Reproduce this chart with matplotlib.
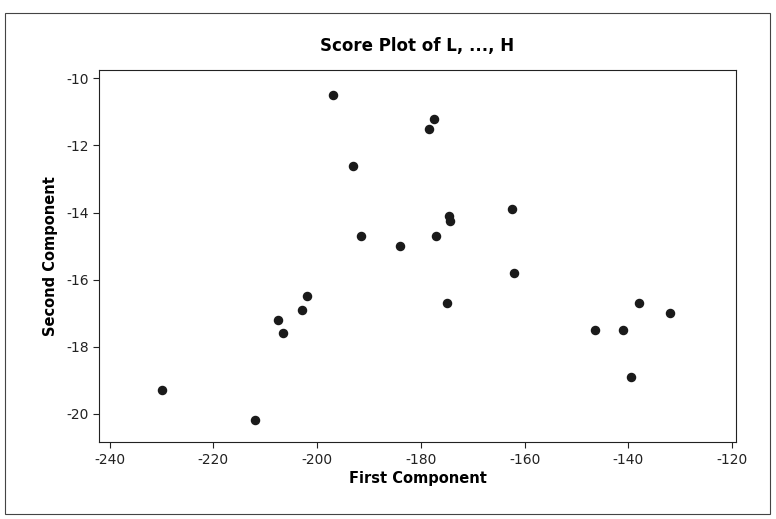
import matplotlib
matplotlib.use('Agg')
import matplotlib.pyplot as plt
from matplotlib.patches import Rectangle

first_component = [-230, -212, -207.5, -206.5, -203, -202, -197, -193, -191.5,
                   -184, -178.5, -177.5, -177, -174.5, -174.3, -175, -162.5,
                   -162, -146.5, -141, -138, -139.5, -132]
second_component = [-19.3, -20.2, -17.2, -17.6, -16.9, -16.5, -10.5, -12.6, -14.7,
                     -15.0, -11.5, -11.2, -14.7, -14.1, -14.25, -16.7, -13.9,
                     -15.8, -17.5, -17.5, -16.7, -18.9, -17.0]

xticks = [-240, -220, -200, -180, -160, -140, -120]
yticks = [-10, -12, -14, -16, -18, -20]

plt.rcParams['font.family'] = ['DejaVu Sans']
plt.rcParams['axes.unicode_minus'] = False

fig = plt.figure(figsize=(7.76, 5.19), dpi=100)
ax = fig.add_axes([0.128, 0.148, 0.82, 0.717])

ax.scatter(first_component, second_component, s=34, color='#1a1a1a', zorder=3)

ax.set_xlim(-242, -119.3)
ax.set_ylim(-20.85, -9.75)
ax.set_xticks(xticks)
ax.set_yticks(yticks)
ax.tick_params(direction='out', length=4, labelsize=10, colors='#222222')
for side in ['top', 'right', 'left', 'bottom']:
    ax.spines[side].set_color('#222222')

ax.set_title('Score Plot of L, ..., H', fontsize=12, fontweight='bold', pad=14)
ax.set_xlabel('First Component', fontsize=10.5, fontweight='bold', labelpad=3)
ax.set_ylabel('Second Component', fontsize=10.5, fontweight='bold', labelpad=6)

# outer border like the printed figure frame
fig.patches.append(Rectangle((0.007, 0.01), 0.985, 0.965, transform=fig.transFigure,
                             fill=False, edgecolor='#444444', linewidth=0.8))

fig.savefig('out.png', dpi=100)
